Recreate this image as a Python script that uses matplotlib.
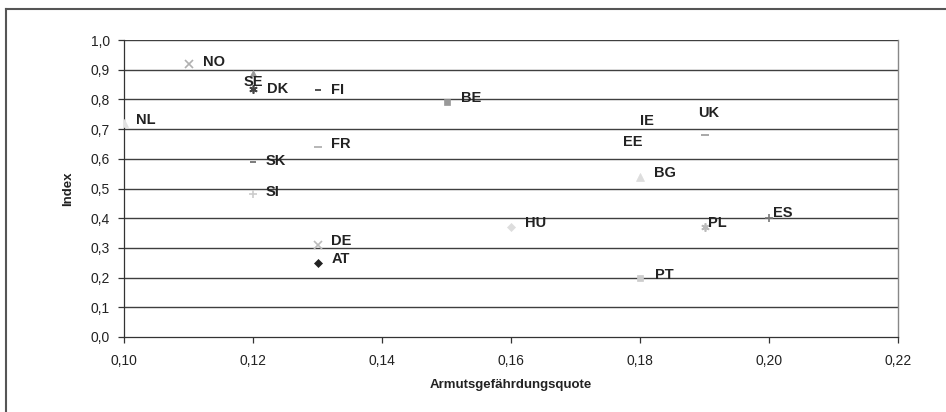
import numpy as np
import matplotlib
matplotlib.use('Agg')
import matplotlib.pyplot as plt
from matplotlib.lines import Line2D
from matplotlib.ticker import FuncFormatter

plt.rcParams['font.family'] = ['Liberation Sans', 'DejaVu Sans']

countries = ['NO', 'SE', 'DK', 'FI', 'NL', 'BE', 'FR', 'SK', 'SI', 'DE', 'AT',
             'HU', 'IE', 'EE', 'UK', 'BG', 'PL', 'ES', 'PT']
quote = [0.11, 0.12, 0.12, 0.13, 0.10, 0.15, 0.13, 0.12, 0.12, 0.13, 0.13,
         0.16, 0.18, 0.18, 0.19, 0.18, 0.19, 0.20, 0.18]
index = [0.92, 0.89, 0.835, 0.83, 0.72, 0.79, 0.64, 0.59, 0.48, 0.31, 0.25,
         0.37, 0.72, 0.66, 0.68, 0.54, 0.37, 0.40, 0.20]

# marker, colour, size per country
star = (6, 2, 0)
styles = {
    'NO': ('x', '#b0b0b0', 5.5), 'SE': ('^', '#999999', 5), 'DK': (star, '#444444', 6),
    'FI': ('_', '#333333', 4), 'NL': ('^', '#e2e2e2', 6), 'BE': ('s', '#999999', 5),
    'FR': ('_', '#aaaaaa', 6), 'SK': ('_', '#666666', 4), 'SI': ('+', '#cccccc', 6),
    'DE': ('x', '#bbbbbb', 5.5), 'AT': ('D', '#222222', 4.5), 'HU': ('D', '#dddddd', 4.5),
    'IE': ('o', 'none', 1), 'EE': ('o', 'none', 1), 'UK': ('_', '#999999', 6),
    'BG': ('^', '#dddddd', 6), 'PL': (star, '#bbbbbb', 6), 'ES': ('+', '#777777', 6),
    'PT': ('s', '#cccccc', 5),
}
# label offsets in pixels
offsets = {
    'NO': (15, 2), 'SE': (-9, -9), 'DK': (14, 0), 'FI': (13, 0), 'NL': (12, 3),
    'BE': (15, 4), 'FR': (14, 3), 'SK': (13, 1), 'SI': (13, 2), 'DE': (14, 4),
    'AT': (14, 4), 'HU': (14, 4), 'IE': (0, 2), 'EE': (-17, -1), 'UK': (-6, 22),
    'BG': (14, 4), 'PL': (3, 4), 'ES': (4, 5), 'PT': (15, 3),
}

fig = plt.figure(figsize=(9.46, 4.12), dpi=100)
ax = fig.add_axes([124/946, 1-337/412, (898-124)/946, (337-40)/412])

for i in np.arange(0.1, 1.01, 0.1):
    ax.axhline(i, color='#3f3f3f', lw=1.0, zorder=1)

for c, x, y in zip(countries, quote, index):
    m, col, s = styles[c]
    ax.plot(x, y, marker=m, color=col, markersize=s, markeredgewidth=1.2 if m in ('_', 'x', '+', star) else 0.5,
            linestyle='none', zorder=3)
    dx, dy = offsets[c]
    ax.annotate(c, (x, y), xytext=(dx, dy), textcoords='offset pixels', ha='left', va='center',
                fontsize=10.5, fontweight='bold', color='#222222', zorder=4)

ax.set_xlim(0.10, 0.22)
ax.set_ylim(0.0, 1.0)
ax.set_xticks(np.arange(0.10, 0.2201, 0.02))
ax.set_yticks(np.arange(0.0, 1.001, 0.1))
ax.xaxis.set_major_formatter(FuncFormatter(lambda v, p: ('%.2f' % v).replace('.', ',')))
ax.yaxis.set_major_formatter(FuncFormatter(lambda v, p: ('%.1f' % v).replace('.', ',')))
ax.tick_params(direction='out', length=4, width=0.9, color='#333333', labelsize=10, labelcolor='#222222')
ax.tick_params(axis='x', pad=8)
ax.tick_params(axis='y', pad=6)

for s in ['left', 'bottom']:
    ax.spines[s].set_color('#333333')
    ax.spines[s].set_linewidth(0.9)
ax.spines['top'].set_visible(False)
ax.spines['right'].set_color('#888888')
ax.spines['right'].set_linewidth(1.0)

ax.set_xlabel('Armutsgefährdungsquote', fontsize=9.5, fontweight='bold', color='#222222', labelpad=8)
ax.set_ylabel('Index', fontsize=9.5, fontweight='bold', color='#222222', labelpad=12)

# chart frame
fig.add_artist(Line2D([6/946, 6/946], [0, 1-9/412], color='#555555', lw=1.5))
fig.add_artist(Line2D([6/946, 1], [1-9/412, 1-9/412], color='#555555', lw=1.5))

fig.savefig('out.png', dpi=100)
